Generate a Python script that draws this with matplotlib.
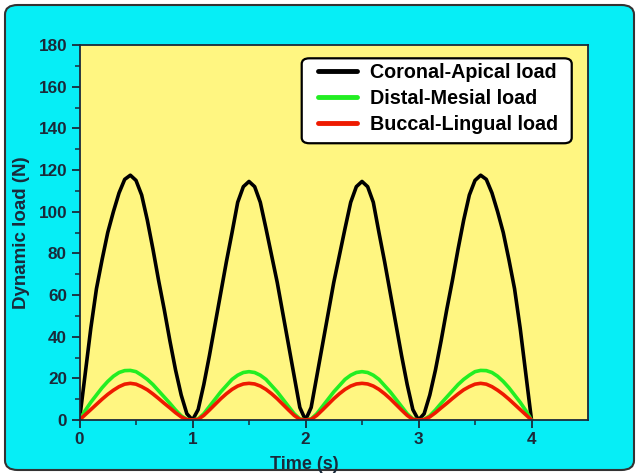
import numpy as np
import matplotlib
matplotlib.use("Agg")
import matplotlib.pyplot as plt
from matplotlib.patches import FancyBboxPatch

plt.rcParams['font.family'] = ['Liberation Sans', 'DejaVu Sans']
plt.rcParams['font.weight'] = 'bold'

# ============================================
# DATA (0.05 s steps)
# ============================================
time_s = np.linspace(0, 4, 81)

coronal_apical = [
    0, 22, 44, 63, 77, 90, 100, 109, 115.5, 117.5, 115, 108, 96, 82, 67, 53, 38, 24, 12, 3,
    0, 5, 17, 31, 46, 61, 76, 90, 104.5, 112, 114.5, 112, 104.5, 92, 79, 66, 51, 36, 21, 6,
    0, 6, 21, 36, 51, 66, 79, 92, 104.5, 112, 114.5, 112, 104.5, 90, 76, 61, 46, 31, 17, 5,
    0, 3, 12, 24, 38, 53, 67, 82, 96, 108, 115, 117.5, 115.5, 109, 100, 90, 77, 63, 44, 22,
    0,
]
distal_mesial = [
    0, 4.5, 8.5, 12, 15.5, 18.5, 21, 22.8, 23.7, 23.8, 23.2, 21.5, 19.5, 17, 14, 11, 8, 4.8, 2, 0.3,
    0, 0.5, 3, 6.5, 10, 13.5, 16.5, 19.5, 21.5, 22.8, 23.2, 22.8, 21.5, 19.5, 16.5, 13.5, 10, 6.5, 3, 0.5,
    0, 0.5, 3, 6.5, 10, 13.5, 16.5, 19.5, 21.5, 22.8, 23.2, 22.8, 21.5, 19.5, 16.5, 13.5, 10, 6.5, 3, 0.5,
    0, 0.3, 2, 4.8, 8, 11, 14, 17, 19.5, 21.5, 23.2, 23.8, 23.7, 22.8, 21, 18.5, 15.5, 12, 8.5, 4.5,
    0,
]
buccal_lingual = [
    0, 2.5, 5, 7.5, 10, 12.3, 14.3, 16, 17.2, 17.6, 17.2, 16, 14.5, 12.5, 10.3, 8, 5.8, 3.5, 1.5, 0.2,
    0, 0.3, 2.2, 4.8, 7.5, 10.2, 12.6, 14.7, 16.3, 17.3, 17.6, 17.3, 16.3, 14.7, 12.6, 10.2, 7.5, 4.8, 2.2, 0.3,
    0, 0.3, 2.2, 4.8, 7.5, 10.2, 12.6, 14.7, 16.3, 17.3, 17.6, 17.3, 16.3, 14.7, 12.6, 10.2, 7.5, 4.8, 2.2, 0.3,
    0, 0.2, 1.5, 3.5, 5.8, 8, 10.3, 12.5, 14.5, 16, 17.2, 17.6, 17.2, 16, 14.3, 12.3, 10, 7.5, 5, 2.5,
    0,
]

series_labels = ["Coronal-Apical load", "Distal-Mesial load", "Buccal-Lingual load"]
series_colors = ["#000000", "#22ee22", "#ee1a00"]

x_ticks = [0, 1, 2, 3, 4]
y_ticks = [0, 20, 40, 60, 80, 100, 120, 140, 160, 180]

# ============================================
# FIGURA
# ============================================
TXT = "#1a2a3a"
fig = plt.figure(figsize=(6.39, 4.75), dpi=100)
fig.patch.set_facecolor("white")

# rounded cyan panel (behind the axes)
panel = FancyBboxPatch(
    (5 / 639, 5 / 475), 629 / 639, 465 / 475,
    boxstyle="round,pad=0,rounding_size=0.02",
    transform=fig.transFigure, facecolor="#06eef6",
    edgecolor="#333333", linewidth=1.5, zorder=-5,
)
fig.patches.append(panel)

ax = fig.add_axes([79.5 / 639, 1 - 420 / 475, 508.5 / 639, 375 / 475])
ax.set_zorder(1)
ax.set_facecolor("#fff681")

for vals, lab, col in zip([coronal_apical, distal_mesial, buccal_lingual],
                          series_labels, series_colors):
    ax.plot(time_s, vals, color=col, lw=2.6, label=lab,
            solid_capstyle="round", solid_joinstyle="round")

ax.set_xlim(0, 4.5)
ax.set_ylim(0, 180)
ax.set_xticks(x_ticks)
ax.set_yticks(y_ticks)
ax.set_xticks(np.arange(0.5, 4.5, 1.0), minor=True)
ax.set_yticks(np.arange(10, 180, 20), minor=True)

ax.tick_params(which="major", direction="out", length=6, width=1.3,
               colors="#1a2a3a", labelsize=12.3, pad=3)
ax.tick_params(which="minor", direction="out", length=3.5, width=1.1, colors="#1a2a3a")
ax.tick_params(top=False, right=False)
for lbl in ax.get_xticklabels() + ax.get_yticklabels():
    lbl.set_fontweight("bold")
    lbl.set_color(TXT)

for spine in ax.spines.values():
    spine.set_edgecolor("#1a2a3a")
    spine.set_linewidth(1.3)

ax.set_xlabel("Time (s)", fontsize=13, fontweight="bold", color=TXT)
ax.set_ylabel("Dynamic load (N)", fontsize=13.5, fontweight="bold", color=TXT)
ax.xaxis.set_label_coords(0.443, -0.095)
ax.yaxis.set_label_coords(-0.098, 0.5)

# legend frame drawn by hand (wider side padding than matplotlib allows)
frame = FancyBboxPatch(
    (0.437, 0.738), 0.531, 0.2265,
    boxstyle="round,pad=0,rounding_size=0.015",
    transform=ax.transAxes, facecolor="white",
    edgecolor="black", linewidth=1.6, zorder=5,
)
ax.add_patch(frame)

leg = ax.legend(
    loc="upper left", bbox_to_anchor=(0.469, 0.952), borderaxespad=0,
    prop={"weight": "bold", "size": 14.2}, frameon=False,
    handlelength=1.98, handletextpad=0.66,
    labelspacing=0.35, borderpad=0,
)
leg.set_zorder(6)
for line in leg.get_lines():
    line.set_linewidth(3.5)
for t in leg.get_texts():
    t.set_color("black")

fig.savefig("out.png", dpi=100)
